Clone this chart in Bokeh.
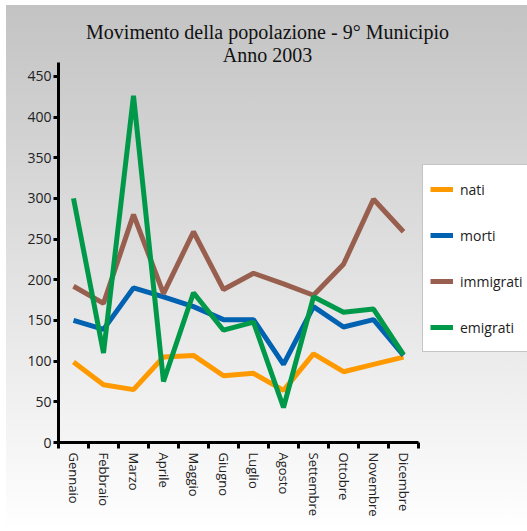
from bokeh.plotting import figure
from bokeh.models import FixedTicker, Legend, LegendItem, Label, Range1d
from bokeh.embed import file_html
from bokeh.resources import INLINE

title_lines = ["Movimento della popolazione - 9° Municipio", "Anno 2003"]
months = ["Gennaio", "Febbraio", "Marzo", "Aprile", "Maggio", "Giugno",
          "Luglio", "Agosto", "Settembre", "Ottobre", "Novembre", "Dicembre"]
series_names = ["nati", "morti", "immigrati", "emigrati"]
nati = [99, 71, 65, 105, 107, 82, 85, 64, 109, 87, 96, 105]
morti = [150, 139, 190, 179, 167, 151, 151, 96, 167, 142, 151, 107]
immigrati = [192, 171, 280, 183, 259, 188, 208, 195, 181, 219, 299, 259]
emigrati = [300, 110, 426, 75, 184, 138, 148, 43, 179, 160, 164, 108]
y_ticks = [0, 50, 100, 150, 200, 250, 300, 350, 400, 450]
y_axis_end = 467
colors = ["#FF9900", "#0062B0", "#985F4E", "#00994A"]

W, H = 527, 531
LEFT, BOTTOM = 58, 89
frame_w, frame_h = W - LEFT, H - BOTTOM
px_per_month = 30.0
px_axis = 380.0
p = figure(width=W, height=H, output_backend="svg", toolbar_location=None,
           x_range=Range1d(0, frame_w / px_per_month),
           y_range=Range1d(0, y_axis_end * frame_h / px_axis),
           min_border_left=LEFT, min_border_right=0, min_border_top=0,
           min_border_bottom=BOTTOM)
p.styles = {"background": "linear-gradient(to bottom, #c3c3c3 0%, #e4e4e4 55%, #ffffff 100%) 6px 5px / calc(100% - 6px) calc(100% - 5px) no-repeat, #ffffff"}
p.background_fill_alpha = 0
p.border_fill_alpha = 0
p.outline_line_color = None
p.xgrid.visible = False
p.ygrid.visible = False

xs = [i + 0.5 for i in range(len(months))]
items = []
for name, vals, c in zip(series_names, [nati, morti, immigrati, emigrati], colors):
    r = p.line(xs, vals, line_color=c, line_width=5)
    items.append(LegendItem(label=name, renderers=[r]))

# x axis
xa = p.xaxis[0]
xa.bounds = (0, len(months))
xa.ticker = FixedTicker(ticks=xs, minor_ticks=list(range(len(months) + 1)))
xa.major_label_overrides = {x: m for x, m in zip(xs, months)}
xa.major_label_orientation = "vertical"
xa.major_tick_line_color = None
xa.major_tick_out = 6
xa.major_tick_in = 0
xa.minor_tick_line_color = "black"
xa.minor_tick_line_width = 3
xa.minor_tick_out = 6
xa.minor_tick_in = 0
xa.axis_line_width = 3
xa.axis_line_color = "black"
xa.major_label_standoff = 4
xa.major_label_text_font = "Open Sans"
xa.major_label_text_font_size = "13px"
xa.major_label_text_color = "#222222"

# y axis
ya = p.yaxis[0]
ya.bounds = (0, y_axis_end)
ya.ticker = FixedTicker(ticks=y_ticks)
ya.minor_tick_line_color = None
ya.major_tick_line_color = "black"
ya.major_tick_line_width = 3
ya.major_tick_out = 5
ya.major_tick_in = 0
ya.axis_line_width = 3
ya.axis_line_color = "black"
ya.major_label_standoff = 2
ya.major_label_text_font = "Open Sans"
ya.major_label_text_font_size = "14px"
ya.major_label_text_color = "#222222"

legend = Legend(items=items, location=(364, 90), margin=0, padding=7,
                glyph_width=23, glyph_height=34, spacing=12, label_standoff=7,
                label_text_font="Open Sans", label_text_font_size="14px",
                label_text_color="#222222", border_line_color="#8a8a8a",
                border_line_width=1, background_fill_color="white",
                background_fill_alpha=1)
p.add_layout(legend, "center")

for t, yb in zip(title_lines, [frame_h - 31, frame_h - 54]):
    p.add_layout(Label(x=267 - LEFT, y=yb, x_units="screen", y_units="screen",
                       text=t, text_align="center", text_baseline="alphabetic",
                       text_font="Liberation Serif", text_font_size="20px",
                       text_color="#111111"))

open("out.html", "w").write(file_html(p, INLINE))
